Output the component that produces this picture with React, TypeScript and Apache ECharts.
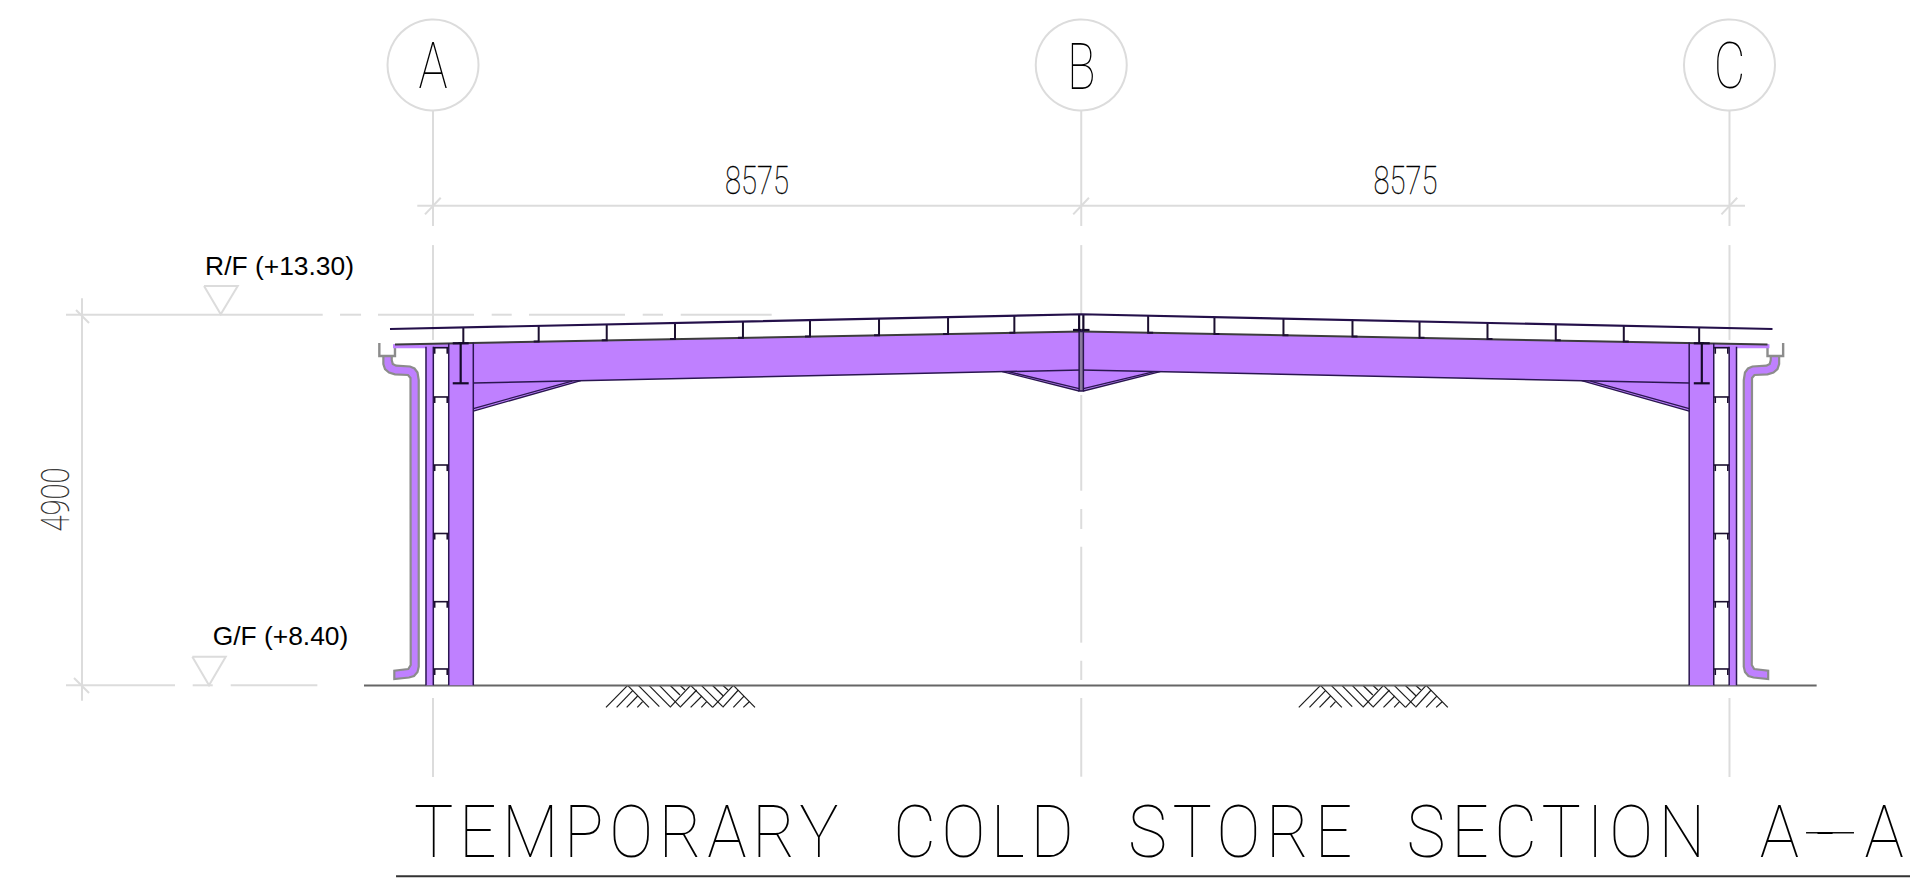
import React, { useEffect, useRef } from "react";
import * as echarts from "echarts";

// All geometry is in drawing millimetres: X from grid A, Y from ground floor.
type Pt = number[];
const spanAC = 17150;
const mirror = (line: Pt[]) => line.map(([x, y]) => [spanAC - x, y]);
const seg = (s: number[]): Pt[] => [[s[0], s[1]], [s[2], s[3]]];

const gridBubbles: Pt[] = [[0, 8205], [8575, 8205], [17150, 8205]];
const bubbleRadius = 602;

const gridSegments = [
  [0, 7604, 0, 6076], [0, 5823, 0, 4568], [0, -168, 0, -1213],
  [17150, 7604, 17150, 6076], [17150, 5823, 17150, 4568], [17150, -168, 17150, -1213],
  [8575, 7604, 8575, 6076], [8575, 5823, 8575, 4908], [8575, 3840, 8575, 2574], [8575, 2332, 8575, 2068],
  [8575, 1833, 8575, 564], [8575, 325, 8575, 70], [8575, -168, 8575, -1209],
];
const dimensionSegments = [
  [-208, 6344, 17355, 6344],
  [-106, 6229, 102, 6450], [8469, 6229, 8677, 6450], [17044, 6229, 17252, 6450],
  [-4643, 5120, -4643, -204],
  [-4722, 4965, -4550, 4793], [-4749, 97, -4550, -102],
];
const levelSegments = [
  [-4855, 4902, -1459, 4902], [-1230, 4902, -952, 4902], [-728, 4902, 542, 4902], [776, 4902, 1041, 4902],
  [1270, 4902, 2540, 4902], [2774, 4902, 3042, 4902], [3277, 4902, 4480, 4902],
  [-4855, 0, -3413, 0], [-3179, 0, -2914, 0], [-2676, 0, -1530, 0],
];
const levelMarkers: Pt[][] = [
  [[-3029, 5282], [-2583, 5282], [-2808, 4908], [-3029, 5282]],
  [[-3184, 378], [-2742, 378], [-2963, 0], [-3184, 378]],
];

const hatchSegments = [
  [2288, -292, 2575, 0], [2429, -292, 2641, -71], [2562, -292, 2707, -142], [2703, -292, 2773, -217],
  [2575, 0, 2857, -292], [2716, 0, 2994, -283], [2857, 0, 3135, -283], [2994, 0, 3267, -283], [3135, 0, 3267, -128], [3267, 0, 3333, -62],
  [3135, -292, 3408, 0], [3267, -292, 3488, -62], [3408, -292, 3558, -142], [3549, -292, 3620, -217],
  [3408, 0, 3699, -292], [3549, 0, 3832, -283], [3695, 0, 3840, -142], [3832, 0, 3902, -62],
  [3699, -292, 3973, 0], [3832, -292, 4039, -62], [3973, -292, 4114, -142], [4105, -292, 4184, -217],
  [3973, 0, 4259, -292],
];
const hatchShift = 9165;

const rafterLeft: Pt[] = [[533, 4534], [8575, 4680], [8575, 4171], [533, 3999]];
const eaveHaunch: Pt[] = [[533, 3999], [1955, 4030], [533, 3628]];
const apexHaunch: Pt[] = [[7530, 4149], [8575, 4171], [8575, 3893]];
const mainColumn: Pt[] = [[208, 0], [533, 0], [533, 4534], [208, 4525]];
const outerColumn: Pt[] = [[-93, 0], [4, 0], [4, 4479], [-93, 4479]];
const eaveStrip: Pt[] = [[-529, 4511], [208, 4525], [208, 4458], [-529, 4458]];
const downpipe: Pt[] = [
  [-657, 4356], [-657, 4250], [-635, 4184], [-582, 4138], [-503, 4114], [-331, 4105], [-298, 4065],
  [-295, 269], [-327, 216], [-512, 193], [-512, 83], [-317, 103], [-251, 123], [-205, 176], [-189, 246],
  [-189, 4038], [-205, 4138], [-245, 4191], [-304, 4217], [-489, 4228], [-532, 4250], [-546, 4303], [-546, 4356],
];
const gutter: Pt[] = [[-710, 4528], [-710, 4356], [-503, 4356], [-503, 4508]];
const centreStrip: Pt[] = [[8547, 4680], [8603, 4680], [8603, 3893], [8547, 3893]];

const lacingLevels = [4466, 3814, 2914, 2008, 1106, 216];
const purlinX = [401, 1398, 2298, 3201, 4100, 4987, 5900, 6813, 7690];
const purlinTop = [4734, 4755, 4774, 4793, 4813, 4832, 4851, 4870, 4889];
const purlinBottom = [4528, 4547, 4563, 4580, 4597, 4613, 4630, 4647, 4664];

const roofLine: Pt[] = [[-569, 4713], [8575, 4908], [17719, 4713]];
const rafterTopLeft: Pt[] = [[-503, 4508], [8575, 4680]];
const groundLine: Pt[] = [[-913, -3], [18303, -3]];
const titleRule: Pt[] = [[-489, -2527], [19538, -2527]];
const titleDash: Pt[] = [[18163, -1950], [18797, -1950]];

const frameSegmentsLeft = [
  [208, 0, 208, 4525], [533, 0, 533, 4534], [-93, 0, -93, 4479], [4, 0, 4, 4479],
  [533, 3999, 8575, 4171],
];
const flangeSegmentsLeft = [
  [366, 4524, 366, 3995], [261, 4524, 472, 4524], [261, 3995, 472, 3995],
  [8547, 4908, 8547, 4680], [8466, 4700, 8575, 4700],
];
const haunchEdgesLeft = [
  [533, 3628, 1955, 4030], [533, 3660, 1840, 4024],
  [7530, 4149, 8547, 3893], [7610, 4149, 8547, 3925],
];

const TITLE_HEAD = "TEMPORARY COLD STORE SECTION A";
const TITLE_DASH = "-";
const TITLE_TAIL = "A";
const TITLE = TITLE_HEAD + TITLE_DASH + TITLE_TAIL;
const drawingTexts = [
  { text: "A", x: 0, y: 8190, kind: "bubble", anchor: "center", sx: 0.75, turn: 0 },
  { text: "B", x: 8575, y: 8190, kind: "bubble", anchor: "center", sx: 0.72, turn: 0 },
  { text: "C", x: 17150, y: 8190, kind: "bubble", anchor: "center", sx: 0.75, turn: 0 },
  { text: "8575", x: 4286, y: 6682, kind: "dim", anchor: "center", sx: 0.76, turn: 0 },
  { text: "8575", x: 12864, y: 6682, kind: "dim", anchor: "center", sx: 0.76, turn: 0 },
  { text: "4900", x: -5000, y: 2458, kind: "dimV", anchor: "center", sx: 0.76, turn: Math.PI / 2 },
  { text: "R/F (+13.30)", x: -3015, y: 5553, kind: "level", anchor: "left", sx: 1, turn: 0 },
  { text: "G/F (+8.40)", x: -2915, y: 646, kind: "level", anchor: "left", sx: 1, turn: 0 },
  { text: TITLE, x: -251, y: -1945, kind: "title", anchor: "left", sx: 0.92, turn: 0 },
];
const textKinds: Record<string, any> = {
  bubble: { fontFamily: "Roboto", fontWeight: 100, fontSize: 65, fill: "#000000" },
  dim: { fontFamily: "Roboto", fontWeight: 100, fontSize: 38.4, fill: "#000000", stroke: "#000000", lineWidth: 0.3 },
  dimV: { fontFamily: "Roboto", fontWeight: 100, fontSize: 38.4, fill: "#222222", stroke: "#222222", lineWidth: 0.2 },
  level: { fontFamily: "Liberation Sans", fontWeight: 400, fontSize: 26.4, fill: "#000000" },
  title: { fontFamily: "Roboto", fontWeight: 100, fontSize: 71.7, fill: "#000000" },
};
const titleLetterSpacing = 6;
const titleWordSpacing = 30;
const titleDashShift = 12;
const titleTailShift = 26;

const LIGHT = "#dcdcdc";
const DARK = "#2a1650";
const GREY = "#8c8c8c";
const PURPLE = "#bf80ff";

function polySeries(shapes: Pt[][], closed: boolean, style: any) {
  return {
    type: "custom",
    silent: true,
    data: shapes.map((s) => s[0]),
    encode: { x: 0, y: 1 },
    renderItem: (params: any, api: any) => ({
      type: closed ? "polygon" : "polyline",
      shape: { points: shapes[params.dataIndex].map((p) => api.coord(p)) },
      style: closed ? style : { fill: "none", ...style },
    }),
  };
}

function circleSeries() {
  return {
    type: "custom",
    silent: true,
    data: gridBubbles,
    encode: { x: 0, y: 1 },
    renderItem: (params: any, api: any) => {
      const [cx, cy] = api.coord(gridBubbles[params.dataIndex]);
      return {
        type: "circle",
        shape: { cx, cy, r: api.size([bubbleRadius, 0])[0] },
        style: { fill: "none", stroke: LIGHT, lineWidth: 2 },
      };
    },
  };
}

function buildOption() {
  const both = (s: Pt[]) => [s, mirror(s)];
  const lacing: Pt[][] = [];
  lacingLevels.forEach((y) => {
    lacing.push(...both([[4, y], [208, y]]));
    lacing.push(...both([[22, y - 80], [22, y]]));
    lacing.push(...both([[188, y - 80], [188, y]]));
  });
  const purlins: Pt[][] = [];
  purlinX.forEach((x, i) => {
    purlins.push(...both([[x, purlinTop[i]], [x, purlinBottom[i]], [x - 66, purlinBottom[i]]]));
  });
  const hatch: Pt[][] = [];
  hatchSegments.forEach(([a, b, c, d]) => {
    hatch.push(seg([a, b, c, d]));
    hatch.push(seg([a + hatchShift, b, c + hatchShift, d]));
  });
  return {
    animation: false,
    backgroundColor: "#ffffff",
    grid: { left: 0, right: 0, top: 0, bottom: 0, show: false },
    xAxis: { type: "value", min: -5728, max: 19538, show: false },
    yAxis: { type: "value", min: -2668, max: 9065, show: false },
    series: [
      circleSeries(),
      polySeries([...gridSegments, ...dimensionSegments, ...levelSegments].map(seg), false, { stroke: LIGHT, lineWidth: 2 }),
      polySeries(levelMarkers, false, { stroke: LIGHT, lineWidth: 2 }),
      polySeries(hatch, false, { stroke: "#1a1a1a", lineWidth: 1.2 }),
      polySeries([groundLine], false, { stroke: "#666666", lineWidth: 2 }),
      polySeries([titleRule], false, { stroke: "#333333", lineWidth: 2 }),
      polySeries([titleDash], false, { stroke: "#111111", lineWidth: 1.5 }),
      polySeries([...both(downpipe)], true, { fill: PURPLE, stroke: GREY, lineWidth: 2.2 }),
      polySeries([...both(gutter)], false, { stroke: GREY, lineWidth: 2.4 }),
      polySeries(
        [rafterLeft, eaveHaunch, apexHaunch, mainColumn, outerColumn, eaveStrip].flatMap(both),
        true,
        { fill: PURPLE, stroke: "none" },
      ),
      polySeries([...both(rafterTopLeft)], false, { stroke: "#3c3c3c", lineWidth: 2 }),
      polySeries(frameSegmentsLeft.map(seg).flatMap(both), false, { stroke: DARK, lineWidth: 1.5 }),
      polySeries(haunchEdgesLeft.map(seg).flatMap(both), false, { stroke: DARK, lineWidth: 1.3 }),
      polySeries(lacing, false, { stroke: "#1c1030", lineWidth: 1.6 }),
      polySeries(purlins, false, { stroke: "#1c1030", lineWidth: 2 }),
      polySeries(flangeSegmentsLeft.map(seg).flatMap(both), false, { stroke: "#150a2a", lineWidth: 2.2 }),
      polySeries([centreStrip], true, { fill: "#8a7a9e", stroke: DARK, lineWidth: 1.5 }),
      polySeries([roofLine], false, { stroke: "#24104a", lineWidth: 2.2 }),
      {
        type: "custom",
        silent: true,
        data: drawingTexts.map((t) => [t.x, t.y]),
        encode: { x: 0, y: 1 },
        renderItem: (params: any, api: any) => {
          const t = drawingTexts[params.dataIndex];
          const [x, y] = api.coord([t.x, t.y]);
          return {
            type: "text",
            x,
            y,
            scaleX: t.sx,
            rotation: t.turn,
            style: { text: t.text, align: t.anchor, verticalAlign: "middle", ...textKinds[t.kind] },
          };
        },
      },
    ],
  };
}

const SVG_NS = "http://www.w3.org/2000/svg";
function spaceTitle(root: HTMLElement) {
  root.querySelectorAll("text").forEach((node) => {
    if (node.textContent !== TITLE) return;
    node.style.letterSpacing = titleLetterSpacing + "px";
    node.style.wordSpacing = titleWordSpacing + "px";
    node.textContent = TITLE_HEAD;
    const dash = document.createElementNS(SVG_NS, "tspan");
    dash.setAttribute("dx", String(titleDashShift));
    dash.textContent = TITLE_DASH;
    const tail = document.createElementNS(SVG_NS, "tspan");
    tail.setAttribute("dx", String(titleTailShift));
    tail.textContent = TITLE_TAIL;
    node.append(dash, tail);
  });
}

export default function App() {
  const ref = useRef<HTMLDivElement>(null);
  useEffect(() => {
    const chart = echarts.init(ref.current!, undefined, { renderer: "svg" });
    chart.setOption(buildOption() as any);
    spaceTitle(ref.current!);
    return () => chart.dispose();
  }, []);
  return <div ref={ref} style={{ position: "absolute", left: 0, top: 0, width: 1910, height: 887 }} />;
}
